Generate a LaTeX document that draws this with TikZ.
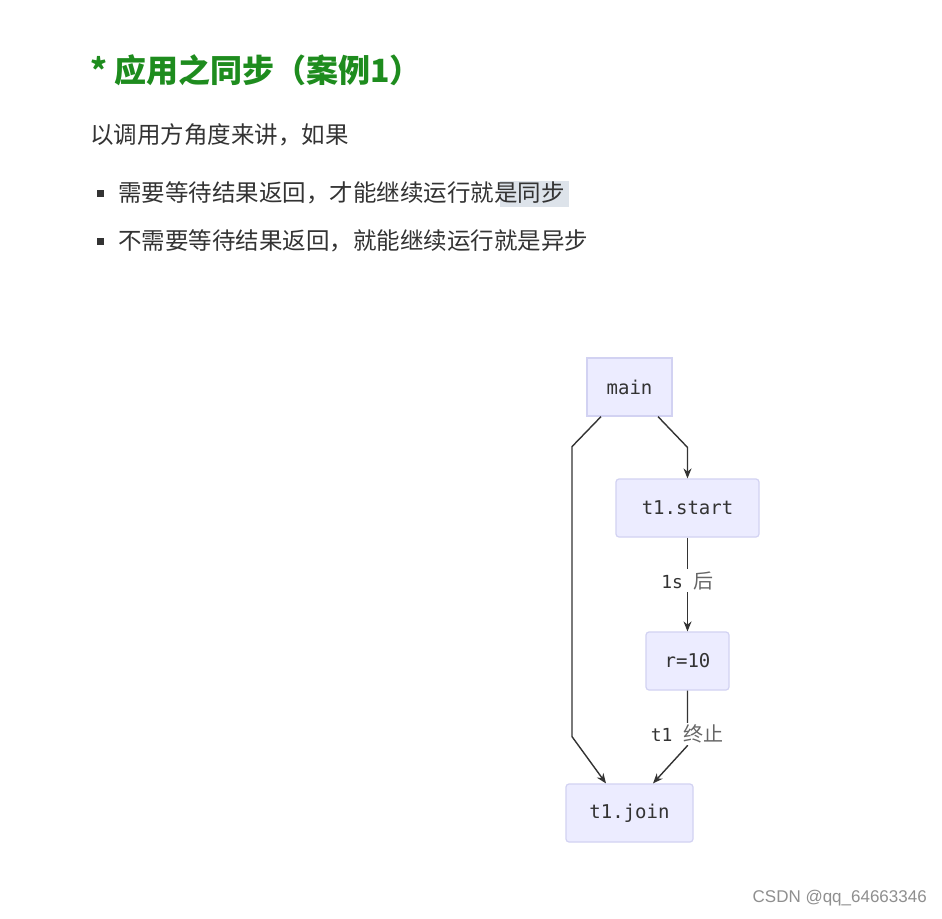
\documentclass[tikz,border=0pt]{standalone}
\usepackage{fontspec}
\usepackage{tikz}
\usetikzlibrary{arrows.meta, positioning, calc}
\setmonofont{DejaVu Sans Mono}
\newfontfamily\cjk{Noto Sans CJK SC}
\newfontfamily\wmfont{Liberation Sans}
\definecolor{slidegreen}{HTML}{1E8C1E}
\definecolor{slideink}{HTML}{333333}
\definecolor{nodefill}{HTML}{ECECFF}
\definecolor{nodeline}{HTML}{D2D2F2}
\definecolor{markbg}{HTML}{DDE3EA}

\tikzset{
  flowbox/.style={draw=nodeline, fill=nodefill, line width=1.2pt, rounded corners=3pt,
                  inner sep=0, minimum height=58pt, text=slideink,
                  font=\fontsize{19}{22}\selectfont\ttfamily},
  edge/.style={draw=slideink, line width=1.4pt, -{Stealth[length=10pt, width=8pt]}},
  edgelbl/.style={fill=white, inner sep=2pt, text=slideink,
                  font=\fontsize{18}{20}\selectfont\ttfamily},
  bullettext/.style={anchor=west, inner sep=0, text=slideink,
                  font=\fontsize{23.5}{26}\cjk},
}

\begin{document}
\begin{tikzpicture}[x=1pt, y=-1pt]
\useasboundingbox (0,0) rectangle (942,918);
\fill[white] (0,0) rectangle (942,918);

% ---- heading and text
\node[anchor=west, inner sep=0, text=slidegreen, font=\fontsize{32}{36}\cjk\bfseries]
      (title) at (90,70) {* 应用之同步（案例1）};
\node[bullettext] (intro) at (90,135) {以调用方角度来讲，如果};
\fill[markbg] (500,181) rectangle (569,207);
\fill[slideink] (97,190) rectangle (104,197);
\node[bullettext] (sync) at (118,193) {需要等待结果返回，才能继续运行就是同步};
\fill[slideink] (97,238) rectangle (104,245);
\node[bullettext] (async) at (118,241) {不需要等待结果返回，就能继续运行就是异步};

% ---- flow
\node[flowbox, rounded corners=0pt, minimum width=85pt] (main) at (629.5,387) {main};
\node[flowbox, minimum width=143pt] (t1start) at (687.5,508) {t1.start};
\node[flowbox, minimum width=83pt] (r10) at (687.5,661) {r=10};
\node[flowbox, minimum width=127pt] (t1join) at (629.5,813) {t1.join};

\draw[edge] ([xshift=28.5pt]main.south) -- ([yshift=31pt]t1start.north) -- (t1start.north);
\draw[edge] ([xshift=-28.5pt]main.south) -- ++(-29,30) -- ++(0,290)
      -- ([xshift=-23.5pt]t1join.north);
\draw[edge] (t1start) -- (r10)
      node[edgelbl, midway, yshift=4pt] (wait) {1s {\fontsize{20}{22}\cjk\color{slideink!75}后}};
\draw[edge] (r10.south) -- ++(0,55) coordinate (bend)
      -- ([xshift=23.5pt]t1join.north);
\node[edgelbl] (stop) at (687,734) {t1 {\fontsize{20}{22}\cjk\color{slideink!75}终止}};

% ---- watermark
\node[anchor=east, inner sep=0, text=slideink!55, font=\fontsize{17}{19}\wmfont]
      (mark) at (927,898) {CSDN @qq\_64663346};

\end{tikzpicture}
\end{document}
